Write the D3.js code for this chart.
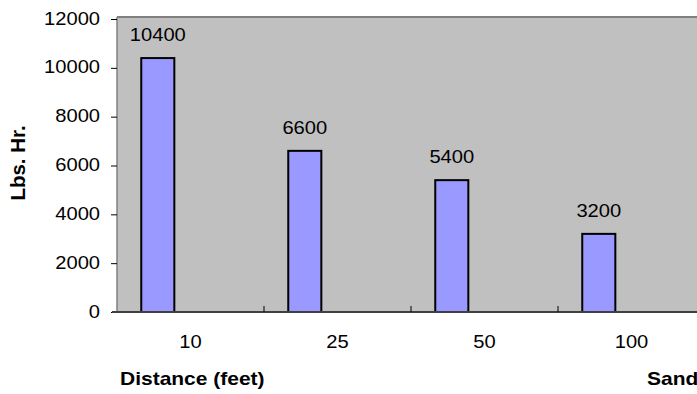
<!DOCTYPE html>
<html><head><meta charset="utf-8">
<script src="https://cdn.jsdelivr.net/npm/d3@7"></script>
<style>body{margin:0;background:#fff}svg{display:block}text{font-family:"Liberation Sans",Arial,sans-serif;fill:#000}</style>
</head><body>
<script>
const categories = ["10", "25", "50", "100"];
const values = [10400, 6600, 5400, 3200];
const yTicks = [0, 2000, 4000, 6000, 8000, 10000, 12000];
const xTitle = "Distance (feet)";
const yTitle = "Lbs. Hr.";
const seriesName = "Sand";

(function () {
const W = 697, H = 394;
const pL = 117, pR = 705, pT = 19, pB = 312;
const svg = d3.select("body").append("svg").attr("width", W).attr("height", H);

const x = d3.scaleBand().domain(categories).range([pL, pR]).paddingInner(0).paddingOuter(0);
const y = d3.scaleLinear().domain([0, 12000]).range([pB, pT]);

function stext(g, str, px, py, fs, sx, anchor, weight) {
  return g.append("text").attr("transform", `translate(${px},${py}) scale(${sx},1)`)
    .attr("text-anchor", anchor).attr("font-size", fs).attr("font-weight", weight || "normal").text(str);
}

// plot area
svg.append("rect").attr("x", pL).attr("y", 17).attr("width", pR - pL).attr("height", pB - 17).attr("fill", "#C0C0C0");
svg.append("line").attr("x1", pL).attr("x2", pR).attr("y1", 17).attr("y2", 17).attr("stroke", "#808080").attr("stroke-width", 2);

// bars
const bw = x.bandwidth();
svg.selectAll("rect.bar").data(values).join("rect").attr("class", "bar")
  .attr("x", (d, i) => x(categories[i]) + bw * 0.165)
  .attr("width", bw * 0.225)
  .attr("y", d => y(d))
  .attr("height", d => y(0) - y(d))
  .attr("fill", "#9999FF").attr("stroke", "#000").attr("stroke-width", 2);

// data labels
values.forEach((d, i) => {
  stext(svg, d, x(categories[i]) + bw * 0.2775, y(d) - 17, 18, 1.12, "middle");
});

// y axis
const yAxis = d3.axisLeft(y).tickValues(yTicks).tickSize(6).tickFormat(d3.format("d"));
const ga = svg.append("g").attr("transform", `translate(${pL},0)`).call(yAxis);
ga.select(".domain").attr("stroke", "#808080").attr("stroke-width", 1.5).attr("d", `M0,17V${pB}`);
ga.selectAll(".tick line").attr("stroke", "#000");
ga.selectAll(".tick text").remove();
yTicks.forEach(t => stext(svg, t, 100, y(t) + 5.5, 17.5, 1.15, "end"));

// x axis
const xAxis = d3.axisBottom(x).tickSize(0).tickFormat("");
const gx = svg.append("g").attr("transform", `translate(0,${pB})`).call(xAxis);
gx.select(".domain").attr("stroke", "#404040").attr("stroke-width", 2).attr("d", `M${pL - 5},0H${pR}`);
categories.slice(1).forEach(c => {
  svg.append("line").attr("x1", x(c)).attr("x2", x(c)).attr("y1", pB - 6).attr("y2", pB).attr("stroke", "#000");
});
categories.forEach(c => stext(svg, c, x(c) + bw / 2, 348, 18, 1.12, "middle"));

// titles
stext(svg, xTitle, 120, 385, 17.5, 1.2, "start", "bold");
stext(svg, seriesName, 647, 385, 17.5, 1.2, "start", "bold");
svg.append("text").attr("transform", `translate(25,163) rotate(-90)`).attr("text-anchor", "middle")
  .attr("font-size", 20.5).attr("font-weight", "bold").text(yTitle);
})();
</script>
</body></html>
